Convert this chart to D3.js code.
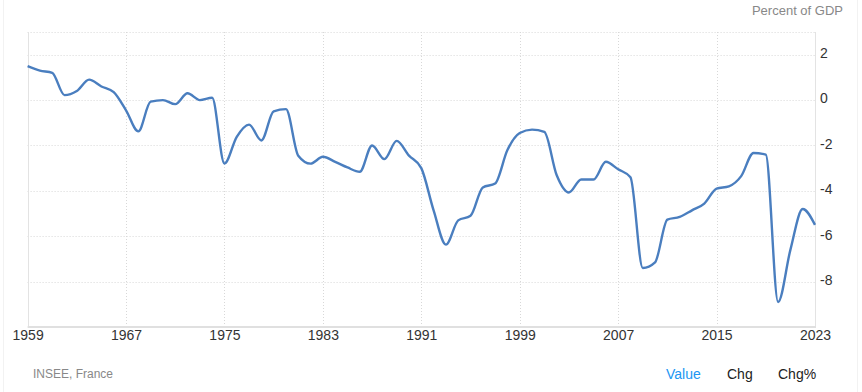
<!DOCTYPE html>
<html>
<head>
<meta charset="utf-8">
<script src="https://cdn.jsdelivr.net/npm/d3@7"></script>
<style>
  html, body { margin: 0; padding: 0; background: #fff; }
  svg { display: block; font-family: "Liberation Sans", Arial, sans-serif; }
</style>
</head>
<body>
<svg id="chart" width="862" height="392"></svg>
<script>
const years = d3.range(1959, 2024);
const values = [
  1.5, 1.3, 1.2, 0.22, 0.4, 0.9, 0.6, 0.35, -0.45, -1.38,
  -0.07, 0.0, -0.18, 0.3, 0.0, 0.1, -2.8, -1.62, -1.08, -1.78,
  -0.5, -0.4, -2.45, -2.8, -2.5, -2.72, -2.97, -3.16, -2.0, -2.6,
  -1.8, -2.45, -3.0, -4.86, -6.37, -5.3, -5.1, -3.85, -3.68, -2.2,
  -1.45, -1.3, -1.4, -3.3, -4.07, -3.5, -3.5, -2.72, -3.05, -3.4,
  -7.4, -7.15, -5.27, -5.15, -4.86, -4.56, -3.9, -3.8, -3.35, -2.33,
  -2.4, -8.9, -6.6, -4.8, -5.5
];
const xTicks = [1959, 1967, 1975, 1983, 1991, 1999, 2007, 2015, 2023];
const yTicks = [2, 0, -2, -4, -6, -8];
const unitLabel = "Percent of GDP";
const sourceLabel = "INSEE, France";
const tabLabels = ["Value", "Chg", "Chg%"];

const svg = d3.select("#chart");
const pLeft = 27.6, pRight = 815, pTop = 32, pBottom = 327;

const x = d3.scaleLinear().domain([1959, 2023]).range([pLeft, pRight]);
const y = d3.scaleLinear().domain([-10, 3]).range([pBottom, pTop]);

// container faint borders
svg.append("line").attr("x1", 3.5).attr("x2", 3.5).attr("y1", 0).attr("y2", 392)
  .attr("stroke", "#f2f2f2").attr("stroke-width", 1);
svg.append("line").attr("x1", 857.5).attr("x2", 857.5).attr("y1", 0).attr("y2", 392)
  .attr("stroke", "#f2f2f2").attr("stroke-width", 1);

// horizontal grid (dotted)
const gridY = yTicks.concat([3]);
svg.append("g").selectAll("line").data(gridY).join("line")
  .attr("x1", pLeft).attr("x2", pRight)
  .attr("y1", d => Math.round(y(d)) + 0.5).attr("y2", d => Math.round(y(d)) + 0.5)
  .attr("stroke", "#d8d8d8").attr("stroke-width", 1).attr("stroke-dasharray", "1,2");

// vertical grid (dotted)
svg.append("g").selectAll("line").data(xTicks.slice(1, -1)).join("line")
  .attr("x1", d => Math.round(x(d)) + 0.5).attr("x2", d => Math.round(x(d)) + 0.5)
  .attr("y1", pTop).attr("y2", pBottom)
  .attr("stroke", "#d8d8d8").attr("stroke-width", 1).attr("stroke-dasharray", "1,2");

// left & right plot edges
svg.append("line").attr("x1", Math.round(pLeft) + 0.5).attr("x2", Math.round(pLeft) + 0.5)
  .attr("y1", pTop).attr("y2", pBottom).attr("stroke", "#e3e3e3");
svg.append("line").attr("x1", Math.round(pRight) + 0.5).attr("x2", Math.round(pRight) + 0.5)
  .attr("y1", pTop).attr("y2", pBottom).attr("stroke", "#e3e3e3");

// bottom axis line
svg.append("line").attr("x1", pLeft).attr("x2", pRight + 1)
  .attr("y1", pBottom).attr("y2", pBottom).attr("stroke", "#e0e0e0").attr("stroke-width", 2);

// x axis labels
const xAxis = d3.axisBottom(x).tickValues(xTicks).tickFormat(d3.format("d")).tickSize(0).tickPadding(0);
const gx = svg.append("g").attr("transform", `translate(0,${pBottom})`).call(xAxis);
gx.select(".domain").remove();
gx.selectAll("text").attr("dy", null).attr("y", 13)
  .attr("font-size", 14).attr("fill", "#333").attr("font-family", "Liberation Sans, Arial, sans-serif");

// y axis labels (right side)
const yAxis = d3.axisRight(y).tickValues(yTicks).tickFormat(d => d).tickSize(0).tickPadding(0);
const gy = svg.append("g").attr("transform", `translate(${pRight + 5},-2)`).call(yAxis);
gy.select(".domain").remove();
gy.selectAll("text").attr("x", 0).attr("dy", "0.35em")
  .attr("font-size", 14).attr("fill", "#333").attr("text-anchor", "start")
  .attr("font-family", "Liberation Sans, Arial, sans-serif");

// the line
const line = d3.line()
  .x((d, i) => x(years[i]))
  .y(d => y(d))
  .curve(d3.curveMonotoneX);
svg.append("path").datum(values)
  .attr("d", line)
  .attr("fill", "none")
  .attr("stroke", "#4a7ebf")
  .attr("stroke-width", 2.4)
  .attr("stroke-linejoin", "round");

// unit label
svg.append("text").attr("x", 843).attr("y", 15).attr("text-anchor", "end")
  .attr("font-size", 13).attr("fill", "#888").text(unitLabel);

// source
svg.append("text").attr("x", 33).attr("y", 378)
  .attr("font-size", 12).attr("fill", "#888").text(sourceLabel);

// tabs
const tabX = [666, 727, 778];
const tabColor = ["#2196f3", "#222", "#222"];
svg.append("g").selectAll("text").data(tabLabels).join("text")
  .attr("x", (d, i) => tabX[i]).attr("y", 379)
  .attr("font-size", 14).attr("fill", (d, i) => tabColor[i]).text(d => d);
</script>
</body>
</html>
